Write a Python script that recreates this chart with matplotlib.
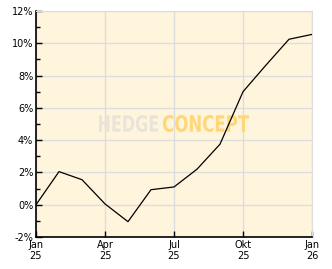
import matplotlib
matplotlib.use("Agg")
from matplotlib import pyplot as plt
from matplotlib.textpath import TextPath
from matplotlib.patches import PathPatch
from matplotlib.font_manager import FontProperties
from matplotlib.transforms import Affine2D, IdentityTransform
import numpy as np

# monthly performance (%), Jan 25 .. Jan 26
months = np.arange(13)
perf = [0.0, 2.05, 1.55, 0.05, -1.05, 0.93, 1.1, 2.2, 3.75, 7.0, 8.65, 10.25, 10.55]

xtick_pos = [0, 3, 6, 9, 12]
xtick_lab = ["Jan\n25", "Apr\n25", "Jul\n25", "Okt\n25", "Jan\n26"]
yticks = [-2, 0, 2, 4, 6, 8, 10, 12]

W, H = 332, 269
fig = plt.figure(figsize=(W/100, H/100), dpi=100)
ax = fig.add_axes([36/W, 1-237/H, 276/W, 226/H])
ax.set_facecolor("#fff5dc")

ax.plot(months, perf, color="black", linewidth=0.9, zorder=3)

ax.set_xlim(0, 12)
ax.set_ylim(-2, 12)
ax.set_xticks(xtick_pos)
ax.set_xticklabels(xtick_lab, fontsize=7)
ax.set_yticks(yticks)
ax.set_yticklabels([str(v) + "%" for v in yticks], fontsize=7)
ax.set_yticks(np.arange(-1, 12, 2), minor=True)
ax.tick_params(axis="both", direction="in", length=4, width=1, pad=2)
ax.tick_params(axis="y", which="minor", direction="in", length=3, width=1)
ax.grid(True, color="#dddddd", linewidth=1, zorder=1)
ax.set_axisbelow(True)

ax.spines["left"].set_color("black")
ax.spines["bottom"].set_color("black")
ax.spines["left"].set_linewidth(1.2)
ax.spines["bottom"].set_linewidth(1.2)
ax.spines["top"].set_color("#dddddd")
ax.spines["right"].set_color("#dddddd")

# watermark, stretched into pixel boxes (x0, x1, ytop, ybottom from top)
fp = FontProperties(family="DejaVu Sans", weight="bold")
def stamp(txt, x0, x1, yt, yb, col):
    tp = TextPath((0, 0), txt, size=10, prop=fp)
    ext = tp.get_extents()
    sx = (x1 - x0) / ext.width
    sy = (yb - yt) / ext.height
    tr = Affine2D().translate(-ext.x0, -ext.y0).scale(sx, sy).translate(x0, H - yb)
    p = PathPatch(tr.transform_path(tp), facecolor=col, edgecolor="none",
                  transform=IdentityTransform(), zorder=2)
    ax.add_artist(p)

stamp("HEDGE", 99, 158, 115, 132, "#e8e4da")
stamp("CONCEPT", 163, 249, 115, 132, "#ffd67a")

plt.savefig("out.png", dpi=100)
